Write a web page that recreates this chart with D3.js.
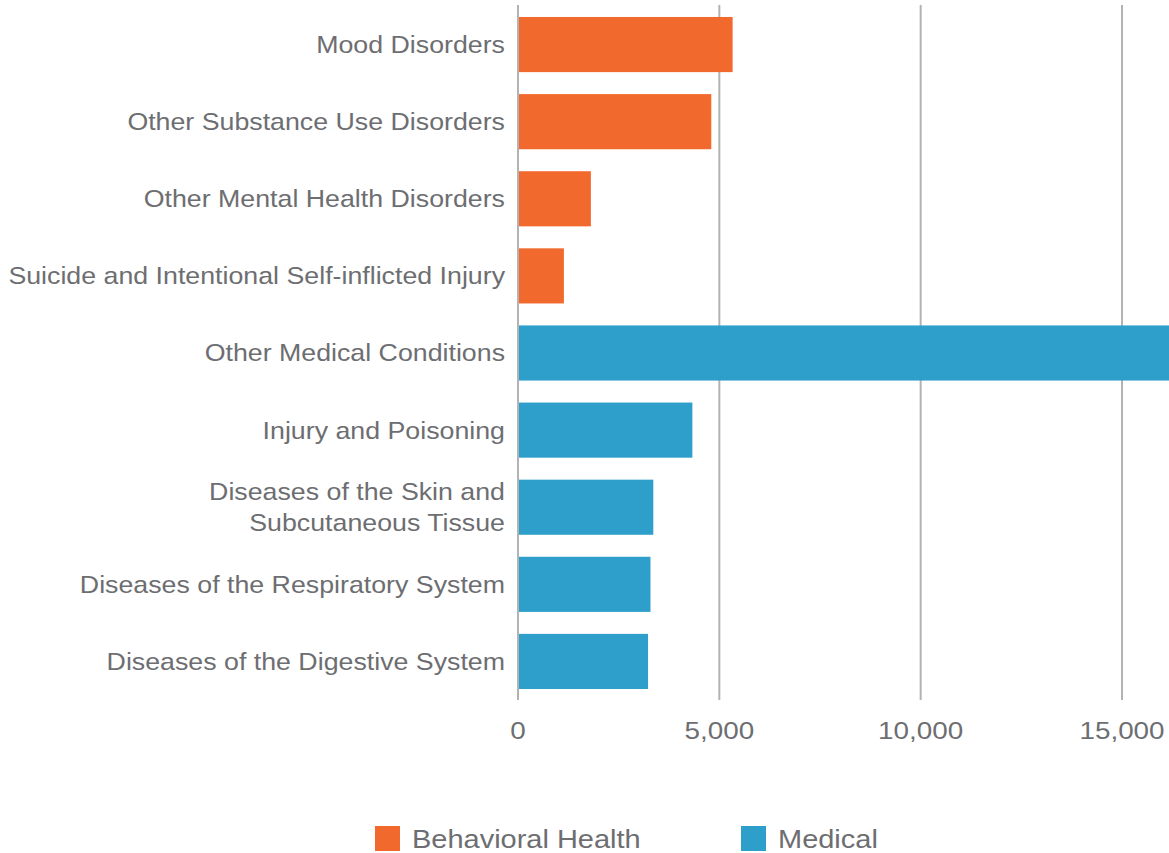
<!DOCTYPE html>
<html>
<head>
<meta charset="utf-8">
<script src="https://cdn.jsdelivr.net/npm/d3@7"></script>
<style>
body{margin:0;background:#fff;}
text{font-family:"Liberation Sans",Arial,sans-serif;fill:#6d6e71;}
</style>
</head>
<body>
<div id="main"></div>
<script>
// categories, top to bottom
var categories=['Mood Disorders','Other Substance Use Disorders','Other Mental Health Disorders',
  'Suicide and Intentional Self-inflicted Injury','Other Medical Conditions','Injury and Poisoning',
  'Diseases of the Skin and\nSubcutaneous Tissue','Diseases of the Respiratory System','Diseases of the Digestive System'];
var values=[5330,4800,1810,1140,16800,4330,3360,3290,3230];
var groups=['Behavioral Health','Behavioral Health','Behavioral Health','Behavioral Health',
  'Medical','Medical','Medical','Medical','Medical'];
var legendNames=['Behavioral Health','Medical'];
var legendColors=['#f2692e','#2e9fcb'];
var tickValues=[0,5000,10000,15000];

var width=1169, height=853;
var stretch=1.115; // the type in the original is a bit wide
var svg=d3.select('#main').append('svg')
    .attr('width',width)
    .attr('height',height);

var x=d3.scaleLinear().domain([0,15000]).range([518,1122]);
var y=d3.scaleBand().domain(categories).range([6,700]).paddingInner(0.285).paddingOuter(0.1425);
var color=d3.scaleOrdinal().domain(legendNames).range(legendColors);

// grid
svg.append('g').selectAll('line')
    .data(tickValues)
  .enter().append('line')
    .attr('x1',function(d){return x(d)})
    .attr('x2',function(d){return x(d)})
    .attr('y1',5)
    .attr('y2',700)
    .attr('stroke','#b3b3b3')
    .attr('stroke-width',2);

// bars
svg.append('g').selectAll('rect')
    .data(categories)
  .enter().append('rect')
    .attr('x',x(0)+1)
    .attr('y',function(d){return y(d)})
    .attr('width',function(d,i){return x(values[i])-x(0)-1})
    .attr('height',y.bandwidth())
    .attr('fill',function(d,i){return color(groups[i])});

// category labels
var lab=svg.append('g').selectAll('text')
    .data(categories)
  .enter().append('text')
    .attr('transform',function(d){return 'translate(505,'+(y(d)+y.bandwidth()/2)+') scale('+stretch+',1)'})
    .attr('text-anchor','end')
    .style('font-size','24px');
lab.each(function(d){
  var lines=d.split('\n');
  var t=d3.select(this);
  lines.forEach(function(l,j){
    t.append('tspan')
      .attr('x',0)
      .attr('dy',j==0?(0.35-(lines.length-1)*0.65)+'em':'1.3em')
      .text(l);
  });
});

// x ticks
svg.append('g').selectAll('text')
    .data(tickValues)
  .enter().append('text')
    .attr('transform',function(d){return 'translate('+x(d)+',739) scale(1.16,1)'})
    .attr('text-anchor','middle')
    .style('font-size','24px')
    .text(function(d){return d3.format(',')(d)});

// legend
var lx=[375,741];
var leg=svg.append('g').selectAll('g')
    .data(legendNames)
  .enter().append('g')
    .attr('transform',function(d,i){return 'translate('+lx[i]+',826)'});
leg.append('rect')
    .attr('width',25)
    .attr('height',25)
    .attr('fill',function(d){return color(d)});
leg.append('text')
    .attr('transform','translate(37,22) scale('+stretch+',1)')
    .style('font-size','26px')
    .text(function(d){return d});
</script>
</body>
</html>
